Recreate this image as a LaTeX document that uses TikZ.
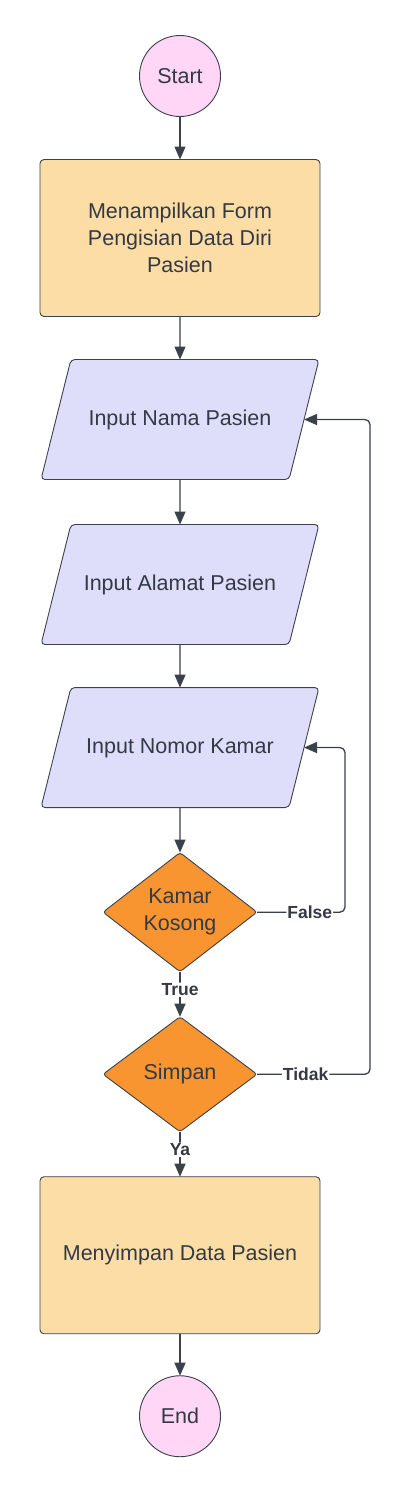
\documentclass[tikz,border=0pt]{standalone}
\usepackage{fontspec}
\setmainfont{Liberation Sans}
\usetikzlibrary{positioning,shapes.geometric,arrows.meta}

\definecolor{linegray}{HTML}{3A414A}
\definecolor{textgray}{HTML}{333A45}
\definecolor{termpink}{HTML}{FFD6F5}
\definecolor{procorange}{HTML}{FDDDA6}
\definecolor{iolilac}{HTML}{DEDEFB}
\definecolor{decorange}{HTML}{F99531}

\tikzset{
  terminal/.style = {circle, draw=linegray, line width=0.9pt, fill=termpink, outer sep=0pt,
    minimum size=81pt, inner sep=0pt, text=textgray, font=\fontsize{21.5}{25}\selectfont},
  process/.style = {rectangle, rounded corners=4pt, draw=linegray, line width=0.9pt,
    fill=procorange, minimum width=280pt, minimum height=157pt, align=center, outer sep=0pt,
    text=textgray, font=\fontsize{21.5}{27}\selectfont},
  inout/.style = {trapezium, trapezium left angle=76, trapezium right angle=104,
    trapezium stretches body=true, rounded corners=4pt, draw=linegray, line width=0.9pt,
    fill=iolilac, minimum width=278pt, text height=15.5pt, text depth=4.5pt,
    inner ysep=50pt, outer sep=0pt,
    text=textgray, font=\fontsize{21.5}{25}\selectfont},
  decision/.style = {diamond, rounded corners=3pt, draw=linegray, line width=0.9pt,
    fill=decorange, minimum width=154pt, minimum height=115pt, inner sep=0pt, outer sep=0pt,
    align=center, text=textgray, font=\fontsize{21.5}{27}\selectfont},
  flow/.style = {draw=linegray, line width=1.3pt, rounded corners=5pt,
    -{Triangle[length=13pt,width=11pt]}},
  branch/.style = {fill=white, inner sep=1pt, text=textgray,
    font=\bfseries\fontsize{17.5}{20}\selectfont},
}

\begin{document}
\begin{tikzpicture}[x=1pt, y=-1pt]
    \useasboundingbox (0,0) rectangle (411,1496);

    \node[terminal] (start) at (180,76) {Start};
    \node[process, below=43pt of start] (form) {Menampilkan Form\\Pengisian Data Diri\\Pasien};
    \node[inout, below=43pt of form] (nama) {Input Nama Pasien};
    \node[inout, below=45pt of nama] (alamat) {Input Alamat Pasien};
    \node[inout, below=43pt of alamat] (kamar) {Input Nomor Kamar};
    \node[decision, below=45pt of kamar] (kosong) {Kamar\\Kosong};
    \node[decision, below=45pt of kosong] (simpan) {Simpan};
    \node[process, below=45pt of simpan] (save) {Menyimpan Data Pasien};
    \node[terminal, below=42pt of save] (end) {End};

    \coordinate (frail) at (345,0);
    \coordinate (trail) at (370,0);

    \draw[flow] (start) -- (form);
    \draw[flow] (form) -- (nama);
    \draw[flow] (nama) -- (alamat);
    \draw[flow] (alamat) -- (kamar);
    \draw[flow] (kamar) -- (kosong);
    \draw[flow] (kosong) -- node[branch, pos=0.4] {True} (simpan);
    \draw[flow] (simpan) -- node[branch, pos=0.4] {Ya} (save);
    \draw[flow] (save) -- (end);
    \draw[flow] (kosong) -- node[branch, pos=0.6] {False} (kosong -| frail)
      -- (kamar -| frail) -- (kamar);
    \draw[flow] (simpan) -- node[branch, pos=0.43] {Tidak} (simpan -| trail)
      -- (nama -| trail) -- (nama);
\end{tikzpicture}
\end{document}
